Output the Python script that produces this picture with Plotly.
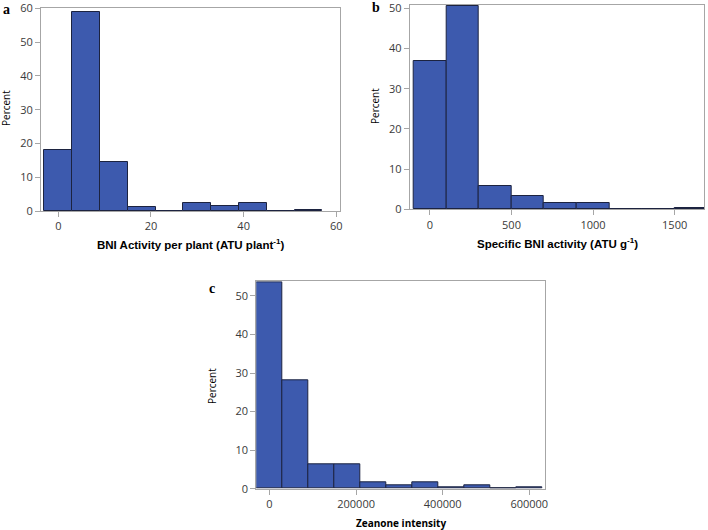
import plotly.graph_objects as go

# Panel a: BNI activity per plant (bin centres, percent)
a_bins = [0, 6, 12, 18, 24, 30, 36, 42, 48, 54]
a_pct = [18.2, 59.0, 14.6, 1.2, 0.0, 2.4, 1.6, 2.4, 0.0, 0.4]
a_width = 6

# Panel b: specific BNI activity
b_bins = [0, 200, 400, 600, 800, 1000, 1200, 1400, 1600]
b_pct = [36.8, 50.6, 5.7, 3.2, 1.6, 1.6, 0.0, 0.0, 0.4]
b_width = 200

# Panel c: zeanone intensity
c_bins = [0, 60000, 120000, 180000, 240000, 300000, 360000, 420000, 480000, 540000, 600000]
c_pct = [53.5, 28.0, 6.3, 6.3, 1.6, 0.8, 1.6, 0.4, 0.8, 0.0, 0.4]
c_width = 60000

a_ticks = [0, 20, 40, 60]
b_ticks = [0, 500, 1000, 1500]
c_ticks = [0, 200000, 400000, 600000]

BAR = "#3d5aae"
EDGE = "#1c2340"
FRAME = "#a6a6a6"
TICKFONT = dict(family="Open Sans, Noto Sans, sans-serif", size=11, color="#3a3a3a")

W, H = 708, 530


def px_x(p):
    return p / W


def px_y(p):
    return 1 - p / H


fig = go.Figure()

panels = [
    ("", a_bins, a_pct, a_width, a_ticks, [-3.74, 60.8], [0, 60.1], (41, 340), (8, 211), [0, 10, 20, 30, 40, 50, 60]),
    ("2", b_bins, b_pct, b_width, b_ticks, [-124, 1680], [0, 50.8], (409.7, 704), (5, 209.3), [0, 10, 20, 30, 40, 50]),
    ("3", c_bins, c_pct, c_width, c_ticks, [-30500, 637000], [0, 53.8], (256.3, 545.3), (281.3, 488.7), [0, 10, 20, 30, 40, 50]),
]

for suffix, bins, pct, width, xt, xr, yr, (x0, x1), (y0, y1), yt in panels:
    fig.add_trace(go.Bar(
        x=bins, y=pct, width=width,
        marker=dict(color=BAR, line=dict(color=EDGE, width=1)),
        xaxis="x" + suffix, yaxis="y" + suffix, showlegend=False,
    ))
    axis_common = dict(
        showgrid=False, zeroline=False, showline=True, linecolor=FRAME, linewidth=1,
        mirror=True, ticks="outside", ticklen=5, tickcolor=FRAME, tickfont=TICKFONT,
        automargin=False, ticklabeloverflow="allow",
    )
    fig.update_layout(**{
        "xaxis" + suffix: dict(
            domain=[px_x(x0), px_x(x1)], range=xr, tickmode="array", tickvals=xt,
            tickformat="d", anchor="y" + suffix, **axis_common),
        "yaxis" + suffix: dict(
            domain=[px_y(y1), px_y(y0)], range=yr, tickmode="array", tickvals=yt,
            anchor="x" + suffix, **axis_common),
    })


def label(text, x, y, font, angle=0):
    return dict(text=text, x=px_x(x), y=px_y(y), xref="paper", yref="paper", showarrow=False,
                xanchor="center", yanchor="middle", textangle=angle, font=font)


annotations = []
# panel letters
letter_font = dict(family="Liberation Serif, serif", size=14, color="black")
for txt, x, y in [("a", 6, 10), ("b", 376, 8), ("c", 212, 288)]:
    annotations.append(label("<b>" + txt + "</b>", x, y, letter_font))
# y titles
pct_font = dict(family="Open Sans, sans-serif", size=10, color="black")
for x, y in [(6, 108), (375, 106), (212, 386)]:
    annotations.append(label("Percent", x, y, pct_font, angle=-90))
# x titles
arial = dict(family="Liberation Sans, Arial, sans-serif", size=11.5, color="black")
annotations.append(label("<b>BNI Activity per plant (ATU plant<sup>-1</sup>)</b>", 190.5, 244, arial))
annotations.append(label("<b>Specific BNI activity (ATU g<sup>-1</sup>)</b>", 557, 243, arial))
annotations.append(label("<b>Zeanone intensity</b>", 401, 523,
                         dict(family="Open Sans, sans-serif", size=10, color="black")))

fig.update_layout(
    width=W, height=H,
    margin=dict(l=0, r=0, t=0, b=0),
    paper_bgcolor="white", plot_bgcolor="white",
    bargap=0, annotations=annotations,
)

fig.write_html("out.html", config={"displayModeBar": False},
               post_script="document.body.style.margin='0';")
